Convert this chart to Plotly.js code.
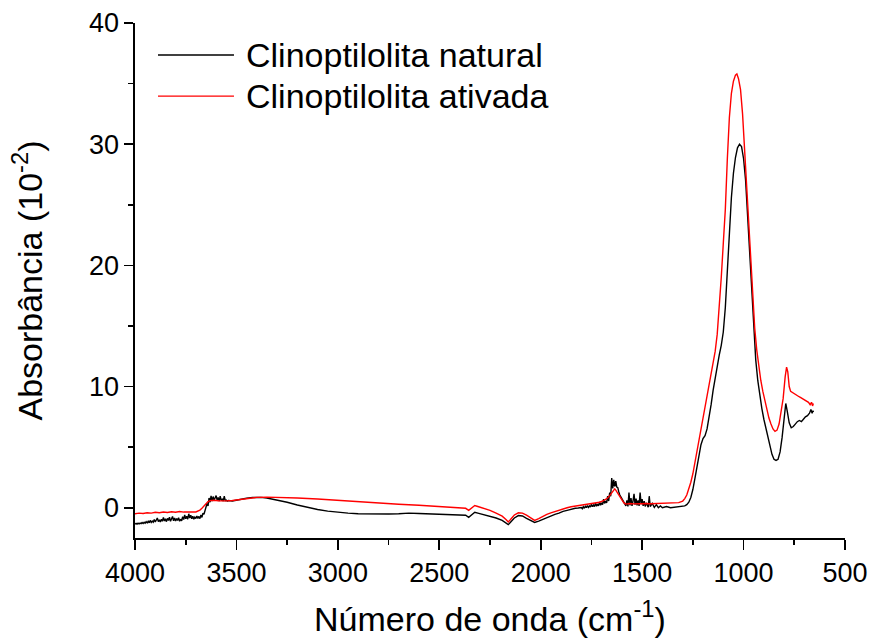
<!DOCTYPE html>
<html>
<head>
<meta charset="utf-8">
<script src="https://cdn.plot.ly/plotly-3.0.1.min.js"></script>
<style>html,body{margin:0;padding:0;background:#fff;}#chart{width:871px;height:638px;}</style>
</head>
<body>
<div id="chart"></div>
<script>
// Clinoptilolita natural (black)
const naturalX = [4000,3995,3990,3985,3980,3975,3970,3965,3960,3955,3950,3945,3940,3935,3930,3925,3920,3915,3910,3905,3900,3895,3890,3885,3880,3875,3870,3865,3860,3855,3850,3845,3840,3835,3830,3825,3820,3815,3810,3805,3800,3795,3790,3785,3780,3775,3770,3765,3760,3755,3750,3745,3740,3735,3730,3725,3720,3715,3710,3705,3700,3695,3690,3685,3680,3675,3670,3665,3660,3655,3650,3645,3640,3635,3630,3625,3620,3615,3610,3605,3600,3595,3590,3585,3580,3575,3570,3565,3560,3555,3550,3545,3540,3520,3500,3480,3450,3420,3400,3380,3350,3300,3250,3200,3150,3100,3050,3000,2950,2900,2850,2800,2750,2700,2650,2600,2550,2500,2450,2400,2370,2355,2340,2325,2310,2280,2250,2220,2190,2170,2160,2150,2130,2110,2090,2070,2050,2030,2010,1990,1970,1950,1930,1910,1890,1870,1850,1830,1815,1800,1795,1790,1785,1780,1775,1770,1765,1760,1755,1750,1745,1740,1735,1730,1725,1720,1715,1710,1705,1700,1695,1690,1685,1680,1675,1670,1665,1660,1655,1650,1645,1640,1635,1630,1625,1620,1615,1610,1600,1590,1580,1575,1570,1565,1560,1555,1550,1545,1540,1535,1530,1525,1520,1515,1510,1505,1500,1495,1490,1485,1480,1470,1465,1460,1450,1440,1430,1420,1410,1400,1380,1360,1340,1320,1300,1290,1280,1270,1260,1250,1240,1230,1220,1210,1200,1190,1180,1170,1160,1150,1140,1130,1120,1110,1100,1090,1080,1070,1060,1050,1040,1030,1020,1010,1000,990,980,970,960,950,940,930,920,910,900,890,880,870,860,850,840,830,820,810,800,792,785,775,765,755,745,735,725,715,705,695,685,675,668,662,658,655];
const naturalY = [-1.35,-1.30,-1.36,-1.28,-1.33,-1.27,-1.32,-1.22,-1.30,-1.20,-1.28,-1.15,-1.25,-1.12,-1.24,-1.05,-1.22,-1.10,-1.20,-0.98,-1.18,-1.05,-0.85,-1.15,-1.00,-1.18,-0.95,-1.12,-0.80,-1.10,-0.92,-1.15,-0.88,-1.05,-0.78,-1.12,-0.95,-0.72,-1.08,-0.85,-1.10,-0.90,-1.05,-0.82,-1.12,-0.95,-1.08,-0.75,-0.98,-0.60,-0.92,-0.70,-0.95,-0.50,-0.85,-0.62,-0.92,-0.70,-0.95,-0.78,-0.90,-0.68,-0.88,-0.72,-0.90,-0.60,-0.80,-0.45,-0.55,-0.25,0.05,0.35,0.15,0.80,0.45,0.98,0.55,0.92,0.62,0.80,1.00,0.60,0.85,0.55,0.95,0.60,0.70,0.55,0.95,0.58,0.62,0.55,0.60,0.55,0.62,0.70,0.78,0.84,0.86,0.85,0.80,0.65,0.45,0.22,0.02,-0.15,-0.28,-0.38,-0.45,-0.50,-0.52,-0.53,-0.52,-0.50,-0.45,-0.48,-0.52,-0.56,-0.58,-0.58,-0.62,-0.80,-0.60,-0.38,-0.45,-0.58,-0.68,-0.85,-1.05,-1.25,-1.40,-1.22,-0.85,-0.65,-0.68,-0.88,-1.05,-1.22,-1.10,-0.95,-0.82,-0.70,-0.55,-0.45,-0.30,-0.22,-0.12,-0.05,-0.02,0.02,-0.08,0.08,-0.05,0.12,0.00,0.18,0.02,0.15,0.05,0.28,0.08,0.22,0.10,0.38,0.12,0.30,0.15,0.48,0.20,0.40,0.25,0.70,0.35,0.55,0.40,0.95,0.55,1.25,0.95,2.45,1.60,2.30,1.75,2.20,1.70,1.65,1.30,1.05,0.75,0.40,0.15,0.60,0.10,1.25,0.20,0.80,0.15,0.55,1.15,0.25,0.75,0.20,0.60,0.15,1.25,0.30,0.70,0.15,0.55,0.10,0.40,0.05,0.95,0.10,0.35,0.02,0.25,0.00,0.15,0.00,0.10,0.00,0.03,0.05,0.10,0.15,0.25,0.45,0.85,1.50,2.40,3.40,4.40,5.20,5.70,5.95,6.50,7.40,8.50,9.70,10.8,11.8,12.6,13.4,14.5,16.5,19.5,22.8,25.6,27.6,28.9,29.7,30.0,29.8,28.8,27.0,24.0,20.4,17.3,14.6,12.2,10.5,9.2,8.2,7.3,6.5,5.7,5.0,4.4,4.0,3.9,4.0,4.6,5.8,7.6,8.6,8.0,7.0,6.6,6.7,6.9,7.1,7.2,7.1,7.3,7.5,7.6,7.8,8.1,7.8,8.0,7.9];

// Clinoptilolita ativada (red)
const ativadaX = [4000,3980,3960,3940,3920,3900,3880,3860,3840,3820,3800,3780,3760,3740,3720,3700,3690,3680,3670,3660,3650,3640,3630,3610,3590,3570,3550,3520,3500,3470,3440,3400,3350,3300,3250,3200,3100,3000,2900,2800,2700,2600,2500,2450,2400,2370,2355,2340,2325,2310,2280,2250,2220,2190,2170,2160,2150,2130,2110,2090,2070,2050,2030,2010,1990,1970,1950,1930,1910,1890,1870,1850,1830,1810,1790,1770,1750,1730,1710,1690,1670,1660,1650,1640,1635,1630,1620,1610,1600,1590,1580,1560,1540,1520,1500,1480,1460,1440,1420,1400,1380,1360,1340,1320,1300,1290,1280,1270,1260,1250,1240,1230,1220,1210,1200,1190,1180,1170,1160,1150,1140,1130,1120,1110,1100,1090,1080,1070,1060,1050,1040,1033,1025,1015,1005,995,985,975,965,955,945,935,925,915,905,895,885,875,865,855,845,835,825,815,805,795,788,782,775,768,760,750,740,730,720,710,700,690,680,672,665,660,656];
const ativadaY = [-0.50,-0.45,-0.48,-0.42,-0.45,-0.38,-0.42,-0.35,-0.40,-0.33,-0.38,-0.32,-0.36,-0.33,-0.36,-0.35,-0.30,-0.20,-0.05,0.15,0.35,0.50,0.58,0.62,0.58,0.55,0.56,0.60,0.65,0.72,0.80,0.85,0.87,0.86,0.84,0.80,0.72,0.60,0.48,0.38,0.28,0.20,0.08,0.02,0.00,-0.05,-0.22,-0.02,0.18,0.10,-0.05,-0.22,-0.45,-0.70,-1.00,-1.18,-1.00,-0.60,-0.42,-0.45,-0.62,-0.85,-1.05,-0.90,-0.70,-0.55,-0.42,-0.30,-0.20,-0.10,0.00,0.08,0.14,0.20,0.25,0.30,0.33,0.38,0.45,0.58,0.80,1.00,1.25,1.50,1.55,1.45,1.20,0.90,0.62,0.40,0.30,0.35,0.32,0.34,0.33,0.35,0.33,0.34,0.33,0.34,0.35,0.36,0.38,0.42,0.55,0.75,1.05,1.50,2.10,2.80,3.70,4.70,5.70,6.60,7.40,8.30,9.20,10.0,10.9,11.8,12.9,14.3,16.5,19.0,21.8,24.6,28.8,32.2,34.2,35.2,35.7,35.8,35.4,34.5,32.5,29.5,26.5,23.2,20.0,17.0,14.8,13.0,11.6,10.5,9.6,8.8,8.0,7.4,6.9,6.5,6.3,6.4,6.9,7.8,9.0,10.8,11.6,11.2,10.0,9.6,9.5,9.4,9.3,9.2,9.1,9.0,8.9,8.8,8.7,8.5,8.7,8.4,8.6];

const seriesNames = ['Clinoptilolita natural', 'Clinoptilolita ativada'];
const seriesColors = ['#000000', '#ff0000'];
const xTitle = 'Número de onda (cm<sup>-1</sup>)';
const yTitle = 'Absorbância (10<sup>-2</sup>)';

const FONT = 'Arial, "Liberation Sans", sans-serif';

const traces = [
  {x: naturalX, y: naturalY, type: 'scatter', mode: 'lines', name: seriesNames[0],
   line: {color: seriesColors[0], width: 1.4}, showlegend: false},
  {x: ativadaX, y: ativadaY, type: 'scatter', mode: 'lines', name: seriesNames[1],
   line: {color: seriesColors[1], width: 1.4}, showlegend: false}
];

// legend drawn manually (long sample lines)
const legY = [0.938, 0.858];
const shapes = legY.map((y, i) => ({type: 'line', xref: 'paper', yref: 'paper',
  x0: 0.0324, x1: 0.1394, y0: y, y1: y, line: {color: seriesColors[i], width: 1.4}}));
const annotations = legY.map((y, i) => ({xref: 'paper', yref: 'paper', x: 0.1535, y: y,
  xanchor: 'left', yanchor: 'middle', showarrow: false, text: seriesNames[i],
  font: {family: FONT, size: 34, color: '#000'}}));

const layout = {
  width: 871, height: 638,
  margin: {l: 135, r: 26, t: 23, b: 100},
  paper_bgcolor: '#fff', plot_bgcolor: '#fff',
  font: {family: FONT, color: '#000'},
  xaxis: {
    range: [4000, 500], dtick: 500, tick0: 500,
    showline: true, linecolor: '#000', linewidth: 1.6, mirror: false,
    ticks: 'outside', ticklen: 10, tickwidth: 1.6, tickcolor: '#000',
    minor: {ticks: 'outside', ticklen: 5, tickwidth: 1.6, dtick: 250, tickcolor: '#000', showgrid: false},
    showgrid: false, zeroline: false,
    tickfont: {family: FONT, size: 27, color: '#000'},
    title: {text: xTitle, font: {family: FONT, size: 34, color: '#000'}, standoff: 22}
  },
  yaxis: {
    range: [-2.5, 40], dtick: 10, tick0: 0,
    showline: true, linecolor: '#000', linewidth: 1.6, mirror: false,
    ticks: 'outside', ticklen: 9, tickwidth: 1.6, tickcolor: '#000',
    minor: {ticks: 'outside', ticklen: 5, tickwidth: 1.6, dtick: 5, tickcolor: '#000', showgrid: false},
    showgrid: false, zeroline: false,
    tickfont: {family: FONT, size: 27, color: '#000'},
    title: {text: yTitle, font: {family: FONT, size: 34, color: '#000'}, standoff: 36}
  },
  shapes: shapes,
  annotations: annotations
};

Plotly.newPlot('chart', traces, layout, {displayModeBar: false, staticPlot: true});
</script>
</body>
</html>
